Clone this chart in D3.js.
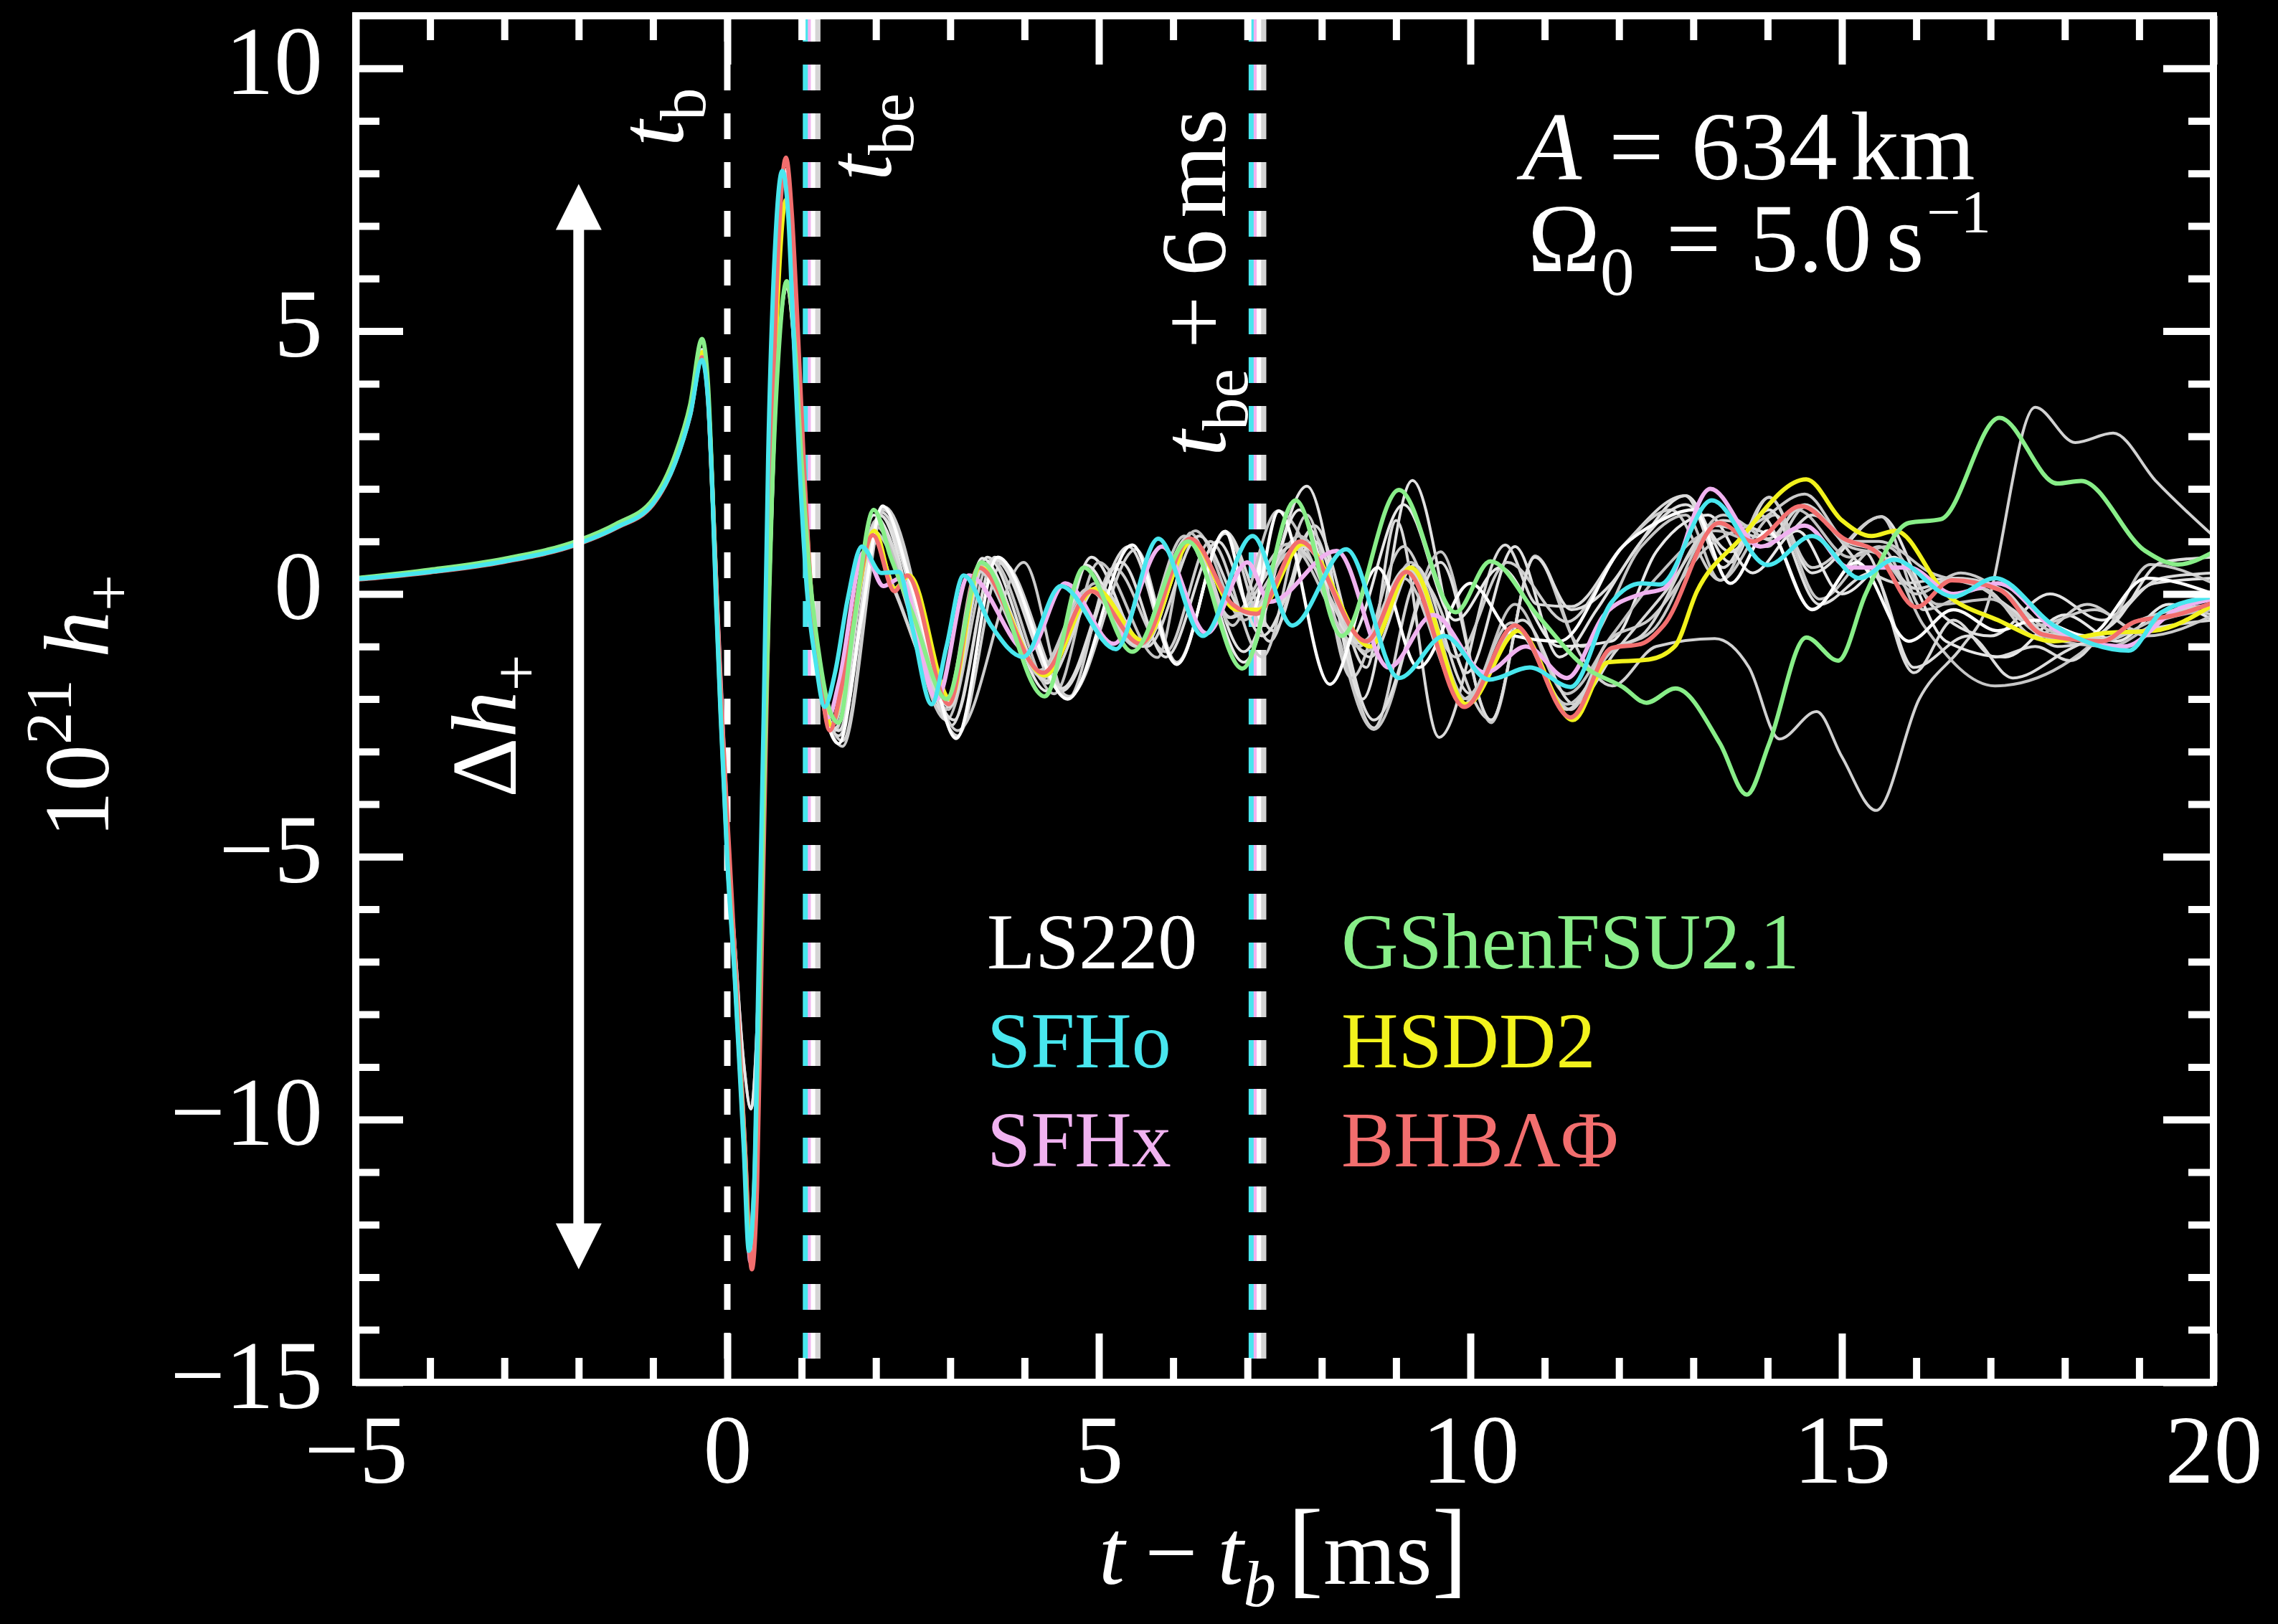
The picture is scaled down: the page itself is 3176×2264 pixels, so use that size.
<!DOCTYPE html>
<html>
<head>
<meta charset="utf-8">
<script src="https://cdn.jsdelivr.net/npm/d3@7"></script>
<style>
  html, body { margin: 0; padding: 0; background: #000; }
  svg { display: block; }
  text { font-family: "Liberation Serif", "Times New Roman", serif; fill: #fff; }
</style>
</head>
<body>
<svg id="chart" width="3176" height="2264"></svg>
<script>
// ---------------- data ----------------
// axis ticks
const xMajorTicks = [-5, 0, 5, 10, 15, 20];
const yMajorTicks = [-15, -10, -5, 0, 5, 10];
const xMinorTicks = d3.range(-4, 20).filter(v => v % 5 !== 0);
const yMinorTicks = d3.range(-14, 11).filter(v => v % 5 !== 0);

// common collapse + bounce segment shared by the grey models (t - t_b [ms], 10^21 h+)
const bounceShared = [[-5,0.28],[-4,0.43],[-3,0.63],[-2,0.98],[-1.5,1.28],[-1,1.74],[-0.7,2.55],[-0.5,3.45],[-0.34,4.6],[-0.26,3.8],[-0.2,1.9],[-0.15,-0.2],[-0.09,-2.3],[0,-5.0],[0.1,-7.3],[0.22,-10.5],[0.3,-12.6],[0.37,-11.2],[0.43,-7.0],[0.5,-2.2],[0.57,2.6],[0.66,6.6],[0.76,8.1],[0.84,7.0],[0.9,5.2],[0.99,2.5],[1.09,0.0],[1.22,-1.5]];
// softer bounce seen in two of the grey models
const bounceSoft = [[-5,0.29],[-4,0.44],[-3,0.64],[-2,0.99],[-1.5,1.3],[-1,1.76],[-0.7,2.58],[-0.5,3.5],[-0.34,4.65],[-0.26,3.85],[-0.2,1.95],[-0.15,-0.1],[-0.09,-2.1],[0,-4.6],[0.1,-6.6],[0.22,-8.9],[0.32,-9.8],[0.4,-8.2],[0.47,-4.8],[0.55,-0.8],[0.64,3.2],[0.73,5.3],[0.8,5.85],[0.88,5.0],[0.96,3.0],[1.06,0.8],[1.2,-1.2]];

// post-bounce parts of the grey / white models
const ls220Tail = [[1.5,-2.85],[1.8,-0.5],[2.09,1.67],[2.45,0.3],[2.7,-1.0],[3.08,-2.75],[3.64,0.7],[4.58,-2.0],[5.45,0.93],[6.05,-1.34],[6.7,1.19],[7.05,-0.4],[7.42,1.58],[8.11,-1.72],[8.75,0.5],[9.3,-1.4],[10.0,0.2],[10.6,-0.8],[11.2,-0.9],[12.05,0.9],[12.5,1.35],[13.0,1.6],[13.5,0.2],[14.0,1.2],[14.6,-0.3],[15.2,0.6],[15.9,-0.9],[16.5,-0.3],[17.1,-0.7],[17.6,-0.5],[18.3,-0.8],[19.1,0.3],[20,0.0]];
const ls180Tail = [[1.55,-2.8],[2.1,1.6],[3.1,-2.7],[3.7,0.6],[4.6,-1.95],[5.5,0.85],[6.05,-1.3],[6.7,1.15],[7.3,-0.9],[7.85,1.2],[8.7,-2.55],[9.3,0.3],[10.28,-2.4],[10.87,0.72],[11.5,-1.2],[11.91,-1.75],[12.5,-1.0],[13.29,-0.85],[13.75,-1.4],[14.16,-2.76],[14.66,-2.24],[15.0,-3.1],[15.46,-4.12],[16.04,-2.0],[16.62,-1.0],[16.91,-0.4],[17.6,3.55],[18.14,2.88],[18.65,3.06],[19.23,2.14],[20,1.1]];
const ls375Tail = [[1.5,-2.6],[2.05,1.5],[2.9,-2.25],[3.5,0.7],[4.3,-1.7],[4.9,0.7],[5.6,-1.0],[6.25,1.0],[6.95,-1.1],[7.8,2.05],[8.55,-2.0],[9.22,2.16],[9.95,-1.5],[10.6,0.9],[11.2,-1.2],[11.7,-0.3],[12.2,0.8],[12.9,1.87],[13.5,0.6],[14.02,1.84],[14.6,0.4],[15.53,1.47],[16.2,-0.2],[17.0,-0.8],[17.8,0.0],[18.5,-0.5],[19.2,0.2],[20,0.3]];
const hshenTail = [[1.45,-2.6],[2.0,1.4],[2.95,-2.4],[3.55,0.65],[4.4,-1.9],[5.0,0.6],[5.79,-1.21],[6.23,1.16],[6.8,-0.6],[7.41,1.58],[8.0,0.2],[8.7,-2.58],[9.6,0.8],[10.28,-2.45],[10.87,0.72],[11.5,-1.0],[12.3,0.9],[12.9,1.5],[13.36,0.26],[14.1,1.5],[14.7,-0.1],[15.5,0.9],[16.1,-0.6],[17.06,-1.75],[18.07,-1.27],[18.6,-0.6],[19.15,0.56],[20,0.2]];
const hshenHTail = [[1.5,-2.7],[2.08,1.55],[3.02,-2.5],[3.6,0.65],[4.5,-1.85],[5.4,0.9],[6.05,-1.34],[6.7,1.19],[7.35,-0.7],[7.9,1.3],[8.6,-1.4],[9.0,1.4],[9.58,-2.73],[10.47,0.93],[10.9,-0.2],[11.36,-0.24],[12.05,0.91],[12.89,1.87],[13.4,0.5],[13.9,1.5],[14.6,-0.29],[15.3,0.8],[15.97,-1.5],[16.5,-0.5],[17.06,-1.2],[17.6,-1.0],[18.07,-1.27],[18.6,-0.6],[19.3,0.3],[20,0.4]];
const gshenNL3Tail = [[1.55,-2.9],[2.12,1.65],[3.1,-2.6],[3.99,0.6],[4.58,-2.0],[5.2,0.5],[5.9,-1.1],[6.5,1.0],[7.2,-1.2],[7.8,1.5],[8.4,-1.6],[9.1,0.9],[9.8,-1.2],[10.5,0.6],[11.3,-0.53],[12.05,0.9],[12.7,1.6],[13.36,0.26],[14.02,1.84],[14.6,0.5],[15.53,1.47],[16.1,-0.3],[16.9,0.1],[17.6,-0.8],[18.3,-0.2],[19.0,-0.7],[19.6,-0.3],[20,-0.4]];
const gshenFSU17Tail = [[1.5,-2.45],[1.97,1.5],[2.95,-2.05],[3.43,0.68],[4.3,-1.85],[4.83,0.55],[5.5,-1.0],[6.2,1.05],[6.95,-1.3],[7.7,1.6],[8.35,-0.9],[9.1,1.7],[9.8,-0.5],[10.4,0.5],[11.2,-1.0],[11.9,-0.9],[12.5,0.8],[13.2,1.5],[13.8,0.4],[14.4,1.2],[15.0,0.0],[15.7,0.7],[16.4,-0.9],[17.2,-1.2],[18.0,-0.4],[18.7,-0.9],[19.4,-0.2],[20,-0.5]];
const hstmaTail = [[1.4,-2.5],[1.98,1.3],[2.98,-2.2],[3.4,0.55],[4.25,-1.6],[4.95,0.2],[5.6,-0.95],[6.3,1.2],[6.95,-0.5],[7.7,1.1],[8.6,-1.1],[9.2,0.6],[9.95,-2.0],[10.6,-0.2],[11.3,-1.9],[11.9,-0.8],[12.5,0.3],[13.3,1.2],[14.0,0.9],[14.4,1.6],[15.1,0.7],[15.6,0.9],[16.3,-0.2],[17.0,-0.1],[17.7,-0.8],[18.6,-1.0],[19.3,-0.5],[20,-0.3]];
const hstm1Tail = [[1.45,-2.55],[2.0,1.35],[3.0,-2.15],[3.45,0.5],[4.3,-1.65],[5.0,0.15],[5.65,-1.0],[6.35,1.1],[7.0,-0.4],[7.75,0.9],[8.65,-1.2],[9.25,0.55],[10.0,-1.9],[10.7,-0.5],[11.4,-2.1],[11.95,-1.1],[12.6,0.0],[13.4,1.4],[14.2,1.1],[14.6,1.5],[15.3,0.5],[15.8,0.2],[16.5,0.3],[17.3,-0.3],[17.9,-1.0],[18.7,-0.8],[19.4,-0.6],[20,-0.5]];
const hsfsgTail = [[1.42,-2.5],[1.96,1.2],[2.97,-2.1],[3.38,0.5],[4.22,-1.5],[4.9,0.1],[5.55,-0.9],[6.2,1.0],[6.9,-0.35],[7.65,0.85],[8.55,-0.9],[9.1,0.3],[9.9,-2.0],[10.6,-0.7],[11.35,-2.2],[11.85,-0.9],[12.4,-0.5],[13.2,0.9],[13.9,1.4],[14.5,1.9],[15.1,1.0],[15.5,1.0],[16.2,0.4],[16.9,0.1],[17.6,-0.6],[18.4,-0.3],[19.1,-0.8],[20,-0.4]];
const hsnl3Tail = [[1.5,-2.6],[2.05,1.5],[3.05,-2.4],[3.6,0.7],[4.5,-1.8],[5.3,0.6],[5.9,-1.2],[6.6,1.0],[7.2,-0.8],[7.9,1.0],[8.7,-2.4],[9.6,0.6],[10.28,-2.4],[10.87,0.7],[11.36,-0.3],[11.9,0.2],[12.3,1.0],[12.9,1.7],[13.5,0.8],[14.02,1.6],[14.7,-0.2],[15.4,0.4],[15.97,-1.4],[16.7,-0.8],[17.3,-1.6],[18.0,-1.1],[18.7,-0.5],[19.3,0.6],[20,0.7]];
const hsiufTail = [[1.4,-2.45],[1.95,1.1],[2.25,0.1],[2.95,-2.05],[3.36,0.45],[4.2,-1.45],[4.85,0.1],[5.5,-1.0],[6.15,1.1],[6.75,-0.45],[7.55,0.95],[8.5,-1.0],[9.15,0.5],[9.9,-2.1],[10.55,-0.55],[11.3,-2.1],[11.9,-1.1],[12.45,-0.7],[13.4,1.5],[14.1,1.0],[14.5,1.65],[15.1,0.9],[15.5,0.75],[16.0,0.0],[16.6,0.4],[17.2,0.0],[17.8,-0.7],[18.5,-0.9],[19.2,-0.5],[20,-0.2]];
const bhblTail = [[1.38,-2.55],[1.95,1.05],[2.25,0.05],[2.97,-2.05],[3.38,0.45],[4.22,-1.5],[4.88,0.05],[5.52,-0.98],[6.2,1.08],[6.78,-0.45],[7.62,0.92],[8.55,-0.95],[9.15,0.5],[9.92,-2.1],[10.6,-0.6],[11.3,-2.2],[11.85,-1.1],[12.3,-0.8],[13.3,1.3],[14.0,1.05],[14.5,1.7],[15.05,1.0],[15.5,0.8],[16.0,0.1],[16.55,0.3],[17.2,0.05],[17.75,-0.75],[18.5,-0.85],[19.0,-0.5],[20,-0.2]];

// highlighted models (full waveforms)
const sfho = [[-5,0.28],[-4,0.42],[-3,0.62],[-2,0.96],[-1.5,1.26],[-1,1.72],[-0.7,2.5],[-0.5,3.4],[-0.34,4.45],[-0.26,3.7],[-0.2,1.9],[-0.15,-0.2],[-0.09,-2.3],[0,-5.1],[0.1,-7.3],[0.22,-10.5],[0.29,-12.5],[0.36,-11.3],[0.42,-7.2],[0.49,-2.3],[0.55,2.6],[0.65,6.8],[0.74,8.05],[0.82,7.2],[0.88,5.3],[0.97,2.5],[1.07,0.1],[1.19,-1.3],[1.31,-2.15],[1.45,-1.5],[1.62,-0.1],[1.81,0.9],[2.07,0.4],[2.31,0.42],[2.5,-0.7],[2.75,-2.1],[2.95,-1.0],[3.18,0.35],[3.55,-0.6],[3.98,-1.2],[4.49,0.15],[5.23,-1.05],[5.8,1.05],[6.4,-0.8],[7.07,1.1],[7.6,-0.6],[8.33,0.85],[9.04,-1.6],[9.65,-0.8],[10.25,-1.63],[10.8,-1.4],[11.35,-1.77],[11.9,-0.16],[12.3,0.2],[12.55,0.18],[13.25,1.78],[14.0,0.55],[14.6,1.1],[15.24,0.3],[15.7,0.65],[16.5,-0.05],[17.06,0.3],[17.85,-0.6],[18.86,-1.08],[19.3,-0.35],[20,-0.05]];
const sfhx = [[-5,0.28],[-4,0.42],[-3,0.62],[-2,0.96],[-1.5,1.26],[-1,1.72],[-0.7,2.52],[-0.5,3.42],[-0.34,4.5],[-0.26,3.75],[-0.2,1.95],[-0.14,-0.1],[-0.07,-2.3],[0.02,-5.0],[0.12,-7.5],[0.24,-10.6],[0.31,-12.7],[0.38,-11.2],[0.44,-7.0],[0.51,-2.1],[0.58,2.7],[0.68,6.9],[0.77,8.0],[0.85,7.0],[0.92,5.2],[1.0,2.5],[1.1,0.0],[1.23,-1.5],[1.36,-2.35],[1.5,-1.7],[1.84,0.8],[2.1,0.15],[2.33,0.3],[2.82,-2.0],[3.25,0.35],[4.05,-1.1],[4.55,0.2],[5.2,-0.95],[5.85,0.9],[6.45,-0.75],[7.0,0.6],[7.3,-0.15],[8.2,0.82],[8.9,-1.4],[9.5,-0.4],[10.2,-1.5],[10.75,-1.0],[11.3,-1.6],[11.8,-0.4],[12.3,0.0],[12.6,0.1],[13.23,2.0],[13.9,0.9],[14.5,1.3],[15.1,0.5],[15.9,0.5],[16.5,0.0],[17.1,0.2],[17.9,-0.7],[18.8,-1.0],[19.5,-0.3],[20,-0.1]];
const gshenFSU21 = [[-5,0.3],[-4,0.46],[-3,0.67],[-2,1.02],[-1.5,1.33],[-1,1.8],[-0.7,2.65],[-0.5,3.6],[-0.34,4.85],[-0.26,4.0],[-0.2,2.0],[-0.15,-0.1],[-0.09,-2.2],[0,-5.0],[0.1,-7.2],[0.22,-10.3],[0.3,-12.4],[0.37,-11.0],[0.44,-7.0],[0.52,-2.2],[0.6,1.8],[0.7,4.8],[0.8,5.95],[0.9,4.9],[1.0,2.5],[1.12,0.2],[1.25,-1.3],[1.4,-2.3],[1.5,-2.45],[1.7,-0.6],[1.97,1.6],[2.2,0.7],[2.5,-0.4],[2.95,-2.0],[3.42,0.6],[4.27,-1.95],[4.8,0.5],[5.45,-1.1],[6.2,1.0],[6.93,-1.42],[7.65,1.78],[8.27,-0.8],[9.04,1.98],[9.8,-0.35],[10.27,0.62],[10.9,-0.4],[11.55,-1.4],[12.05,-1.77],[12.37,-2.07],[12.76,-1.8],[13.36,-2.85],[13.72,-3.82],[14.02,-2.85],[14.52,-0.83],[14.95,-1.27],[15.32,0.0],[15.9,1.35],[16.33,1.42],[17.12,3.35],[17.9,2.1],[18.22,2.15],[19.08,0.82],[19.52,0.56],[20,0.8]];
const hsdd2 = [[-5,0.28],[-4,0.42],[-3,0.62],[-2,0.97],[-1.5,1.27],[-1,1.73],[-0.7,2.53],[-0.5,3.45],[-0.34,4.6],[-0.26,3.8],[-0.2,1.95],[-0.14,-0.15],[-0.08,-2.3],[0.01,-5.0],[0.11,-7.4],[0.23,-10.5],[0.31,-12.6],[0.38,-11.1],[0.45,-7.0],[0.52,-2.1],[0.6,2.4],[0.7,6.2],[0.79,7.5],[0.87,6.6],[0.94,4.9],[1.03,2.3],[1.13,0.0],[1.26,-1.5],[1.4,-2.5],[1.58,-1.5],[1.98,1.2],[2.25,0.1],[2.45,0.35],[3.0,-2.0],[3.4,0.5],[4.27,-1.55],[4.95,0.1],[5.6,-0.9],[6.25,1.0],[6.85,-0.3],[7.15,-0.3],[7.75,0.95],[8.65,-1.0],[9.2,0.5],[9.95,-2.1],[10.65,-0.7],[11.38,-2.4],[11.85,-1.3],[12.4,-1.25],[12.75,-1.0],[13.05,0.05],[13.6,1.0],[14.52,2.18],[15.0,1.4],[15.4,1.1],[15.72,1.2],[16.4,0.0],[17.1,-0.5],[17.85,-0.9],[18.5,-0.75],[19.2,-0.7],[20,-0.2]];
const bhblp = [[-5,0.27],[-4,0.41],[-3,0.61],[-2,0.95],[-1.5,1.25],[-1,1.7],[-0.7,2.5],[-0.5,3.4],[-0.34,4.5],[-0.26,3.75],[-0.2,2.0],[-0.14,-0.2],[-0.07,-2.4],[0.03,-5.0],[0.13,-7.6],[0.24,-10.6],[0.33,-12.85],[0.4,-11.3],[0.46,-7.0],[0.53,-2.0],[0.6,2.8],[0.7,7.0],[0.79,8.3],[0.87,7.2],[0.94,5.3],[1.03,2.5],[1.13,0.0],[1.25,-1.6],[1.38,-2.6],[1.55,-1.7],[1.96,1.12],[2.25,0.05],[2.42,0.35],[2.98,-2.1],[3.38,0.5],[4.25,-1.5],[4.9,0.05],[5.56,-0.95],[6.23,1.05],[6.8,-0.2],[7.12,-0.38],[7.71,1.0],[8.6,-0.9],[9.14,0.42],[9.92,-2.15],[10.6,-0.6],[11.35,-2.35],[11.9,-1.03],[12.3,-0.95],[12.6,-0.6],[13.35,1.35],[13.8,1.0],[14.45,1.67],[15.03,1.05],[15.46,0.8],[16.0,-0.25],[16.48,0.26],[17.12,0.08],[17.7,-0.77],[18.5,-0.9],[18.94,-0.53],[19.5,-0.4],[20,-0.16]];

// end-of-bounce times t_be - t_b [ms] per model
const tbeGrey = [1.19, 1.12, 1.21, 1.14, 1.16, 1.2, 1.13, 1.18, 1.11, 1.17, 1.15, 1.22];
const tbeLS220 = 1.15, tbeSFHo = 1.05, tbeSFHx = 1.09, tbeGShen21 = 1.14, tbeHSDD2 = 1.16, tbeBHB = 1.13;

// Δh+ arrow span and its time position
const deltaArrow = { t: -2.0, top: 7.8, bottom: -12.85 };

// legend
const legendLeft = ["LS220", "SFHo", "SFHx"];
const legendRight = ["GShenFSU2.1", "HSDD2", "BHBΛΦ"];

// ---------------- styles ----------------
const greyShades = ["#d2d2d2", "#e2e2e2", "#c6c6c6", "#dadada", "#cdcdcd", "#e8e8e8", "#c2c2c2", "#d8d8d8", "#cbcbcb", "#dedede", "#c9c9c9", "#d4d4d4"];
const colLS220 = "#ffffff", colSFHo = "#48e6ee", colSFHx = "#f0b2f0", colGreen = "#88ee88", colYellow = "#f2f21c", colRed = "#f26e6e";

const greyModels = [
  bounceSoft.concat(ls180Tail), bounceShared.concat(ls375Tail), bounceShared.concat(hshenTail),
  bounceShared.concat(hshenHTail), bounceShared.concat(gshenNL3Tail), bounceSoft.concat(gshenFSU17Tail),
  bounceShared.concat(hstmaTail), bounceShared.concat(hstm1Tail), bounceShared.concat(hsfsgTail),
  bounceShared.concat(hsnl3Tail), bounceShared.concat(hsiufTail), bounceShared.concat(bhblTail)
];
const greyEntries = greyModels.map((d, i) => ({ data: d, color: greyShades[i], width: 4, tbe: tbeGrey[i] }));
const ls220Entry = { data: bounceShared.concat(ls220Tail), color: colLS220, width: 4.5, tbe: tbeLS220 };
const yellowEntry = { data: hsdd2, color: colYellow, width: 6, tbe: tbeHSDD2 };
const pinkEntry = { data: sfhx, color: colSFHx, width: 6, tbe: tbeSFHx };
const redEntry = { data: bhblp, color: colRed, width: 6, tbe: tbeBHB };
const greenEntry = { data: gshenFSU21, color: colGreen, width: 6, tbe: tbeGShen21 };
const cyanEntry = { data: sfho, color: colSFHo, width: 6, tbe: tbeSFHo };

// drawing order of the waveforms and of the t_be markers
const models = greyEntries.concat([ls220Entry, yellowEntry, pinkEntry, redEntry, greenEntry, cyanEntry]);
const markerOrder = [yellowEntry, redEntry, greenEntry].concat(greyEntries, [ls220Entry, pinkEntry, cyanEntry]);

// ---------------- chart ----------------
const W = 3176, H = 2264;
const svg = d3.select("#chart");
svg.append("rect").attr("width", W).attr("height", H).attr("fill", "#000");

const x = d3.scaleLinear().domain([-5, 20]).range([496, 3086]);
const y = d3.scaleLinear().domain([-15, 11]).range([1927, 22]);

svg.append("defs").append("clipPath").attr("id", "plotclip")
  .append("rect").attr("x", x(-5)).attr("y", y(11))
  .attr("width", x(20) - x(-5)).attr("height", y(-15) - y(11));

const plot = svg.append("g").attr("clip-path", "url(#plotclip)");
const dash = "36 32";

// vertical markers: bounce, end of bounce, end of bounce + 6 ms
plot.append("line")
  .attr("x1", x(0)).attr("x2", x(0)).attr("y1", y(11)).attr("y2", y(-15))
  .attr("stroke", "#fff").attr("stroke-width", 9).attr("stroke-dasharray", dash);
[0, 6].forEach(off => {
  plot.append("g").selectAll("line").data(markerOrder).join("line")
    .attr("x1", d => x(d.tbe + off)).attr("x2", d => x(d.tbe + off))
    .attr("y1", y(11)).attr("y2", y(-15))
    .attr("stroke", d => d.color).attr("stroke-width", 7)
    .attr("stroke-dasharray", dash);
});

// waveforms
const line = d3.line().x(d => x(d[0])).y(d => y(d[1])).curve(d3.curveMonotoneX);
plot.append("g").selectAll("path").data(models).join("path")
  .attr("d", d => line(d.data))
  .attr("fill", "none")
  .attr("stroke", d => d.color)
  .attr("stroke-width", d => d.width)
  .attr("stroke-linejoin", "round");

// Δh+ double arrow
const ax = x(deltaArrow.t), head = 64, halfW = 32;
svg.append("line").attr("x1", ax).attr("x2", ax)
  .attr("y1", y(deltaArrow.top) + head - 4).attr("y2", y(deltaArrow.bottom) - head + 4)
  .attr("stroke", "#fff").attr("stroke-width", 15);
svg.append("path").attr("fill", "#fff")
  .attr("d", `M${ax},${y(deltaArrow.top)} L${ax - halfW},${y(deltaArrow.top) + head} L${ax + halfW},${y(deltaArrow.top) + head} Z`);
svg.append("path").attr("fill", "#fff")
  .attr("d", `M${ax},${y(deltaArrow.bottom)} L${ax - halfW},${y(deltaArrow.bottom) - head} L${ax + halfW},${y(deltaArrow.bottom) - head} Z`);

// ---------------- axes ----------------
function styleTicks(g) {
  g.select(".domain").remove();
  g.attr("color", "#fff");
  g.selectAll(".tick line").attr("stroke-width", 10);
}
const axBottom = svg.append("g").attr("transform", `translate(0,${y(-15)})`);
axBottom.append("g").call(d3.axisTop(x).tickValues(xMajorTicks).tickSize(68).tickFormat("")).call(styleTicks);
axBottom.append("g").call(d3.axisTop(x).tickValues(xMinorTicks).tickSize(34).tickFormat("")).call(styleTicks);
const axTop = svg.append("g").attr("transform", `translate(0,${y(11)})`);
axTop.append("g").call(d3.axisBottom(x).tickValues(xMajorTicks).tickSize(68).tickFormat("")).call(styleTicks);
axTop.append("g").call(d3.axisBottom(x).tickValues(xMinorTicks).tickSize(34).tickFormat("")).call(styleTicks);
const axLeft = svg.append("g").attr("transform", `translate(${x(-5)},0)`);
axLeft.append("g").call(d3.axisRight(y).tickValues(yMajorTicks).tickSize(66).tickFormat("")).call(styleTicks);
axLeft.append("g").call(d3.axisRight(y).tickValues(yMinorTicks).tickSize(33).tickFormat("")).call(styleTicks);
const axRight = svg.append("g").attr("transform", `translate(${x(20)},0)`);
axRight.append("g").call(d3.axisLeft(y).tickValues(yMajorTicks).tickSize(70).tickFormat("")).call(styleTicks);
axRight.append("g").call(d3.axisLeft(y).tickValues(yMinorTicks).tickSize(35).tickFormat("")).call(styleTicks);

// tick labels
const fmt = d3.format("d");
const xLabels = svg.append("g").attr("transform", `translate(0,${y(-15)})`)
  .call(d3.axisBottom(x).tickValues(xMajorTicks).tickSize(0).tickFormat(fmt));
xLabels.select(".domain").remove();
xLabels.selectAll("text").attr("y", 140).attr("dy", null)
  .style("font-size", "136px").style("font-family", '"Liberation Serif", serif').attr("fill", "#fff");
const yLabels = svg.append("g").attr("transform", `translate(450,0)`)
  .call(d3.axisLeft(y).tickValues(yMajorTicks).tickSize(0).tickFormat(fmt));
yLabels.select(".domain").remove();
yLabels.selectAll("text").attr("x", 0).attr("dy", 35)
  .style("font-size", "136px").style("font-family", '"Liberation Serif", serif').attr("fill", "#fff");

// frame
svg.append("rect").attr("x", x(-5)).attr("y", y(11))
  .attr("width", x(20) - x(-5)).attr("height", y(-15) - y(11))
  .attr("fill", "none").attr("stroke", "#fff").attr("stroke-width", 10);

// ---------------- text helpers ----------------
// parts: s = text, it = italic, sub / sup = script position, k = size factor, dx = extra space
function mathText(sel, parts, fs) {
  let shift = 0;
  parts.forEach(p => {
    const target = p.sub ? 0.24 * fs : (p.sup ? -0.4 * fs : 0);
    const k = p.k || ((p.sub || p.sup) ? 0.7 : 1);
    const ts = sel.append("tspan")
      .attr("dy", target - shift)
      .style("font-size", (k * fs) + "px")
      .style("font-style", p.it ? "italic" : "normal")
      .text(p.s);
    if (p.dx) ts.attr("dx", p.dx);
    shift = target;
  });
  return sel;
}

// axis titles
mathText(svg.append("text").attr("transform", "translate(151,1168) rotate(-90)"),
  [{ s: "10" }, { s: "21", sup: true }, { s: "h", it: true, dx: 30 }, { s: "+", sub: true }], 130);
mathText(svg.append("text").attr("x", 1532).attr("y", 2208),
  [{ s: "t", it: true }, { s: "−", dx: 28 }, { s: "t", it: true, dx: 28 }, { s: "b", it: true, sub: true },
   { s: "[", dx: 16, k: 1.15 }, { s: "ms" }, { s: "]", k: 1.15 }], 130);

// marker labels
mathText(svg.append("text").attr("transform", "translate(952,204) rotate(-90)"),
  [{ s: "t", it: true }, { s: "b", sub: true }], 130);
mathText(svg.append("text").attr("transform", "translate(1242,252) rotate(-90)"),
  [{ s: "t", it: true }, { s: "be", sub: true }], 130);
mathText(svg.append("text").attr("transform", "translate(1708,636) rotate(-90)"),
  [{ s: "t", it: true }, { s: "be", sub: true }, { s: "+", dx: 28 }, { s: "6", dx: 28 }, { s: "ms", dx: 16 }], 130);
mathText(svg.append("text").attr("transform", "translate(719,1112) rotate(-90)"),
  [{ s: "Δ" }, { s: "h", it: true }, { s: "+", sub: true }], 130);

// model parameters
mathText(svg.append("text").attr("x", 2122).attr("y", 250),
  [{ s: "A", it: true }, { s: "=", dx: 38 }, { s: "634", dx: 38 }, { s: "km", dx: 18 }], 136);
mathText(svg.append("text").attr("x", 2130).attr("y", 378),
  [{ s: "Ω" }, { s: "0", sub: true }, { s: "=", dx: 44 }, { s: "5.0", dx: 40 }, { s: "s", dx: 20 }, { s: "−1", sup: true, k: 0.62, dx: 4 }], 136);

// legend
const legColsL = [colLS220, colSFHo, colSFHx];
const legColsR = [colGreen, colYellow, colRed];
svg.append("g").selectAll("text").data(legendLeft).join("text")
  .attr("x", 1376).attr("y", (d, i) => 1350 + i * 138)
  .style("font-size", "110px").style("fill", (d, i) => legColsL[i])
  .text(d => d);
svg.append("g").selectAll("text").data(legendRight).join("text")
  .attr("x", 1870).attr("y", (d, i) => 1350 + i * 138)
  .style("font-size", "110px").style("fill", (d, i) => legColsR[i])
  .text(d => d);
</script>
</body>
</html>
